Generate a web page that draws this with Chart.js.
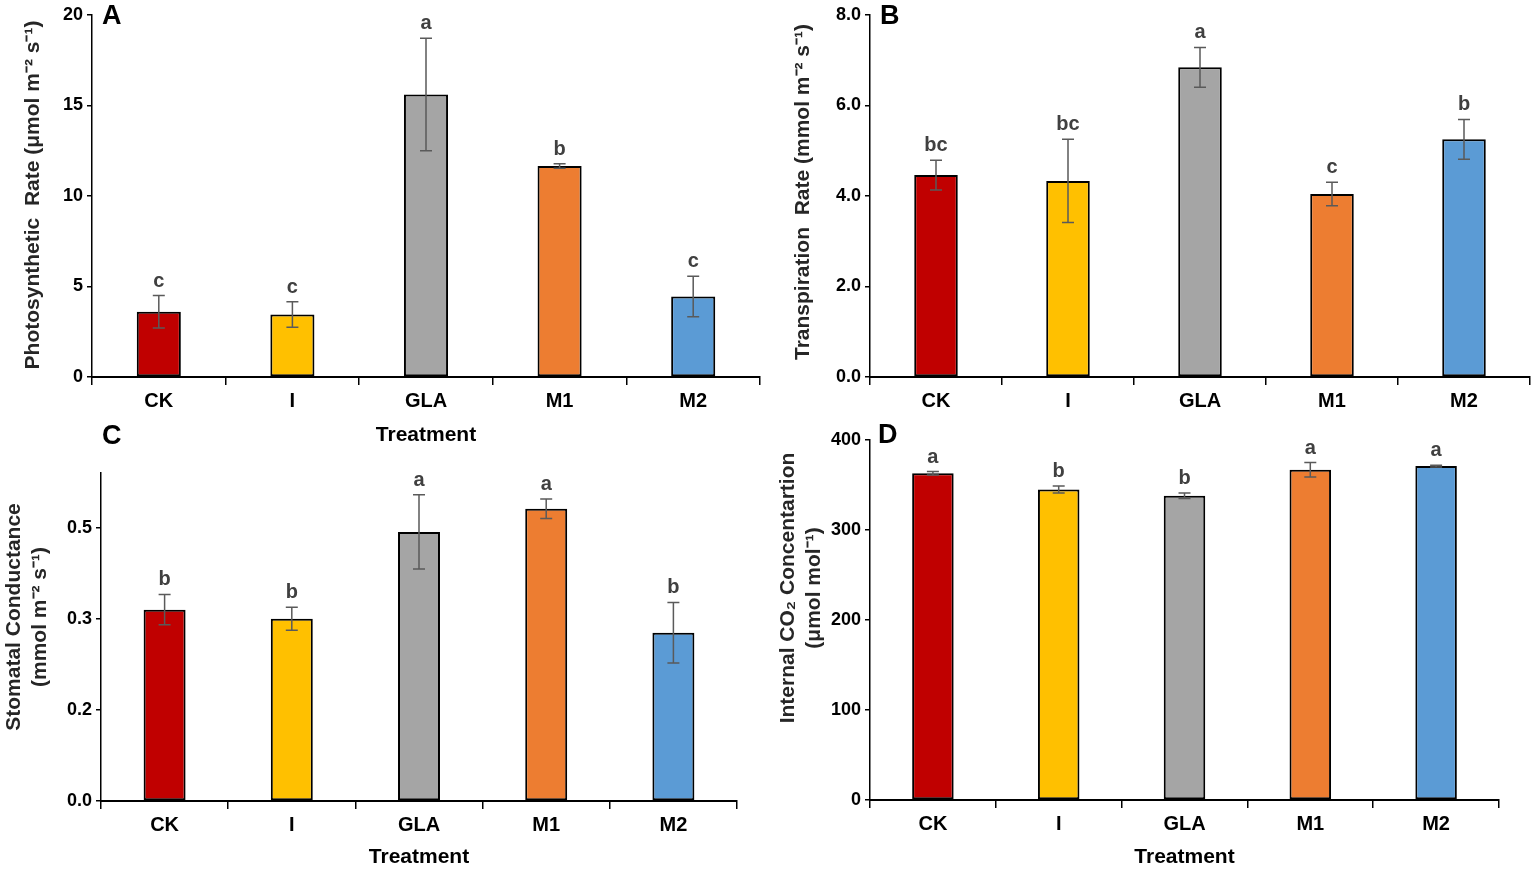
<!DOCTYPE html>
<html>
<head>
<meta charset="utf-8">
<script src="https://cdn.jsdelivr.net/npm/chart.js"></script>
<style>
  html, body { margin: 0; padding: 0; background: #fff; }
  body { width: 1535px; height: 870px; position: relative; overflow: hidden; }
  .panel { position: absolute; }
  .tag { position: absolute; font: bold 27px "Liberation Sans", Arial, sans-serif; color: #000; line-height: 1; }
</style>
</head>
<body>
<div class="panel" style="left:0;top:0;width:770px;height:450px"><canvas id="chartA"></canvas></div>
<div class="panel" style="left:770px;top:0;width:765px;height:450px"><canvas id="chartB"></canvas></div>
<div class="panel" style="left:0;top:430px;width:770px;height:440px"><canvas id="chartC"></canvas></div>
<div class="panel" style="left:770px;top:420px;width:765px;height:450px"><canvas id="chartD"></canvas></div>
<div class="tag" style="left:102px;top:2px">A</div>
<div class="tag" style="left:880px;top:2px">B</div>
<div class="tag" style="left:102px;top:422px">C</div>
<div class="tag" style="left:878px;top:421px">D</div>
<script>
    // treatments and colours
    var treatments = ['CK', 'I', 'GLA', 'M1', 'M2'];
    var barColors = ['#C00000', '#FFC000', '#A5A5A5', '#ED7D31', '#5B9BD5'];

    // A - photosynthetic rate
    var photoRate = [3.6, 3.45, 15.6, 11.65, 4.45];
    var photoErr = [0.9, 0.7, 3.1, 0.13, 1.12];
    var photoLetters = ['c', 'c', 'a', 'b', 'c'];
    var photoTicks = [0, 5, 10, 15, 20];
    var photoTickLabels = ['0', '5', '10', '15', '20'];

    // B - transpiration rate
    var transRate = [4.46, 4.33, 6.84, 4.04, 5.25];
    var transErr = [0.33, 0.92, 0.44, 0.26, 0.44];
    var transLetters = ['bc', 'bc', 'a', 'c', 'b'];
    var transTicks = [0, 2, 4, 6, 8];
    var transTickLabels = ['0.0', '2.0', '4.0', '6.0', '8.0'];

    // C - stomatal conductance (axis step 0.15, labels rounded to one decimal)
    var stomCond = [0.315, 0.300, 0.443, 0.481, 0.277];
    var stomErr = [0.025, 0.019, 0.061, 0.016, 0.05];
    var stomLetters = ['b', 'b', 'a', 'a', 'b'];
    var stomTicks = [0, 0.15, 0.3, 0.45];
    var stomTickLabels = ['0.0', '0.2', '0.3', '0.5'];

    // D - internal CO2
    var co2Conc = [363, 345, 338, 367, 371];
    var co2Err = [2, 4, 3, 8, 1];
    var co2Letters = ['a', 'b', 'b', 'a', 'a'];
    var co2Ticks = [0, 100, 200, 300, 400];
    var co2TickLabels = ['0', '100', '200', '300', '400'];

    var FONT = '"Liberation Sans", Arial, sans-serif';

    // error bars + significance letters
    var errorBars = {
        id: 'errorBars',
        afterDatasetsDraw: function (chart, args, opts) {
            var ctx = chart.ctx;
            var y = chart.scales.y;
            var ds = chart.data.datasets[0];
            var meta = chart.getDatasetMeta(0);
            ctx.save();
            meta.data.forEach(function (bar, i) {
                var top = y.getPixelForValue(ds.data[i] + opts.errors[i]);
                var bot = y.getPixelForValue(ds.data[i] - opts.errors[i]);
                ctx.strokeStyle = '#5a5a5a';
                ctx.lineWidth = 1.5;
                ctx.beginPath();
                ctx.moveTo(bar.x, top); ctx.lineTo(bar.x, bot);
                ctx.moveTo(bar.x - 6, top); ctx.lineTo(bar.x + 6, top);
                ctx.moveTo(bar.x - 6, bot); ctx.lineTo(bar.x + 6, bot);
                ctx.stroke();
                ctx.fillStyle = '#404040';
                ctx.font = 'bold 20px ' + FONT;
                ctx.textAlign = 'center';
                ctx.textBaseline = 'alphabetic';
                ctx.fillText(opts.letters[i], bar.x, top - 9);
            });
            ctx.restore();
        }
    };

    // rotated y title (one or two lines)
    var sideTitle = {
        id: 'sideTitle',
        afterDraw: function (chart, args, opts) {
            var ctx = chart.ctx;
            ctx.save();
            ctx.font = 'bold 21px ' + FONT;
            ctx.fillStyle = '#262626';
            ctx.textAlign = 'center';
            ctx.textBaseline = 'middle';
            ctx.translate(opts.x, opts.y);
            ctx.rotate(-Math.PI / 2);
            opts.lines.forEach(function (t, i) { ctx.fillText(t, 0, i * opts.gap); });
            ctx.restore();
        }
    };

    function makePanel(id, p) {
        var ctx = document.getElementById(id).getContext('2d');
        return new Chart(ctx, {
            type: 'bar',
            data: {
                labels: treatments,
                datasets: [{
                    data: p.values,
                    backgroundColor: barColors,
                    borderColor: '#000',
                    borderWidth: 2,
                    borderSkipped: false,
                    categoryPercentage: 1,
                    barPercentage: 0.33
                }]
            },
            options: {
                responsive: true,
                maintainAspectRatio: false,
                animation: false,
                layout: { padding: { top: p.padTop, right: p.padRight, left: 0, bottom: 0 } },
                plugins: {
                    legend: { display: false },
                    tooltip: { enabled: false },
                    errorBars: { errors: p.errors, letters: p.letters },
                    sideTitle: { lines: p.title, x: p.titleX, y: p.titleY, gap: 26 }
                },
                scales: {
                    x: {
                        grid: { display: true, drawOnChartArea: false, drawTicks: true, tickLength: 8, color: '#000', lineWidth: 1.5, offset: true },
                        border: { display: true, color: '#000', width: 2 },
                        ticks: { color: '#000', padding: 4, font: { family: FONT, size: 20, weight: 'bold' } },
                        title: {
                            display: p.xTitle, text: 'Treatment', color: '#000',
                            font: { family: FONT, size: 21, weight: 'bold' }, padding: { top: 0, bottom: p.xTitlePad }
                        },
                        afterFit: function (scale) { scale.height = p.xHeight; }
                    },
                    y: {
                        min: 0,
                        max: p.max,
                        afterBuildTicks: function (scale) {
                            scale.ticks = p.ticks.map(function (v) { return { value: v }; });
                        },
                        grid: { drawOnChartArea: false, drawTicks: true, tickLength: 5, color: '#000', lineWidth: 1.5 },
                        border: { display: true, color: '#000', width: 1.5 },
                        ticks: {
                            color: '#000', padding: 4,
                            font: { family: FONT, size: 18, weight: 'bold' },
                            callback: function (value, index) { return p.tickLabels[index]; }
                        },
                        afterFit: function (scale) { scale.width = p.yWidth; }
                    }
                }
            },
            plugins: [errorBars, sideTitle]
        });
    }

    makePanel('chartA', {
        values: photoRate, errors: photoErr, letters: photoLetters,
        ticks: photoTicks, tickLabels: photoTickLabels, max: 20,
        yWidth: 92, xHeight: 73, padTop: 13, padRight: 10,
        xTitle: true, xTitlePad: 2,
        title: ['Photosynthetic  Rate (\u03bcmol m\u207b\u00b2 s\u207b\u00b9)'], titleX: 33, titleY: 195
    });

    makePanel('chartB', {
        values: transRate, errors: transErr, letters: transLetters,
        ticks: transTicks, tickLabels: transTickLabels, max: 8,
        yWidth: 100, xHeight: 73, padTop: 13, padRight: 5,
        xTitle: false, xTitlePad: 0,
        title: ['Transpiration  Rate (mmol m\u207b\u00b2 s\u207b\u00b9)'], titleX: 33, titleY: 192
    });

    makePanel('chartC', {
        values: stomCond, errors: stomErr, letters: stomLetters,
        ticks: stomTicks, tickLabels: stomTickLabels, max: 0.54,
        yWidth: 101, xHeight: 69, padTop: 43, padRight: 33,
        xTitle: true, xTitlePad: 0,
        title: ['Stomatal Conductance', '(mmol m\u207b\u00b2 s\u207b\u00b9)'], titleX: 14, titleY: 187
    });

    makePanel('chartD', {
        values: co2Conc, errors: co2Err, letters: co2Letters,
        ticks: co2Ticks, tickLabels: co2TickLabels, max: 400,
        yWidth: 100, xHeight: 70, padTop: 20, padRight: 36,
        xTitle: true, xTitlePad: 0,
        title: ['Internal CO\u2082 Concentartion', '(\u03bcmol mol\u207b\u00b9)'], titleX: 18, titleY: 168
    });
</script>
</body>
</html>
